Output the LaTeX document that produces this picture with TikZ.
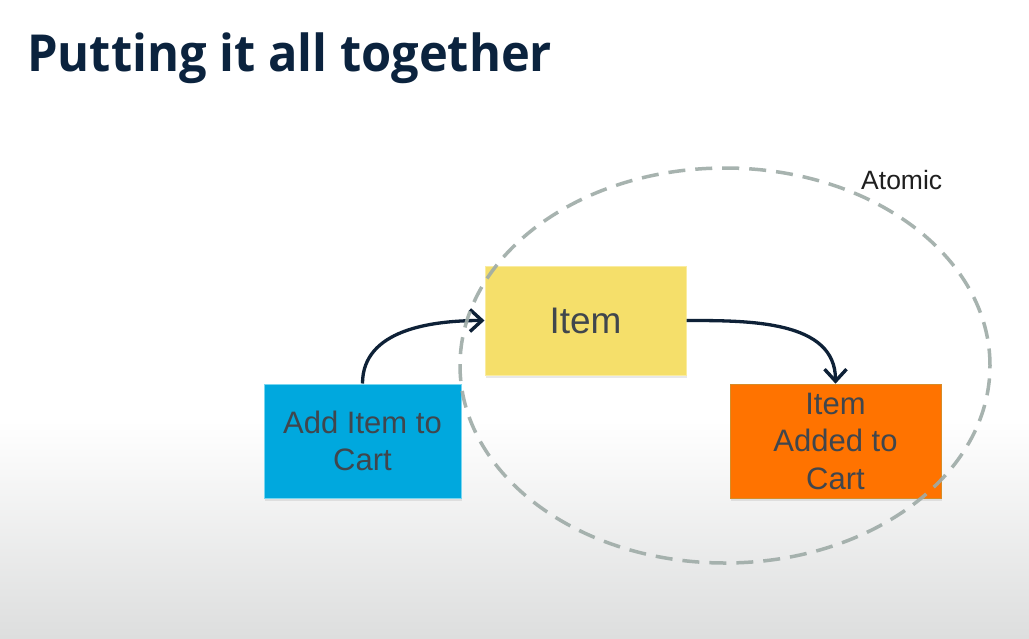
\documentclass[tikz,border=0pt]{standalone}
\usepackage{graphicx}
\usepackage{fontspec}
\setmainfont{Liberation Sans}
\newfontfamily\titlefont{Open Sans}
\usetikzlibrary{arrows.meta,shapes.geometric,shadows}

\definecolor{navy}{RGB}{11,35,62}
\definecolor{flowcol}{RGB}{14,33,55}
\definecolor{boxtext}{RGB}{64,70,77}
\definecolor{cmdblue}{RGB}{0,168,222}
\definecolor{cmdedge}{RGB}{120,214,240}
\definecolor{aggyellow}{RGB}{245,223,106}
\definecolor{aggedge}{RGB}{250,236,160}
\definecolor{evtorange}{RGB}{255,115,0}
\definecolor{evtedge}{RGB}{214,140,40}
\definecolor{dashcol}{RGB}{158,171,167}
\definecolor{bggrey}{RGB}{221,222,222}

\tikzset{
  card/.style={rectangle, inner sep=0pt, align=center, text=boxtext,
    font=\fontsize{31}{37.5}\selectfont,
    drop shadow={shadow xshift=1pt, shadow yshift=-3pt, opacity=0.18}},
  flow/.style={draw=flowcol, line width=3.3pt,
    -{Straight Barb[length=12pt,width=22pt,line width=3.4pt]}},
  boundary/.style={ellipse, draw=dashcol, line width=3.5pt,
    dash pattern=on 17pt off 10pt, inner sep=0pt}
}

\begin{document}
\begin{tikzpicture}[x=1pt,y=1pt]
\useasboundingbox (0,0) rectangle (1029,-638);
% slide background: white fading to light grey at the bottom
\fill[white] (0,0) rectangle (1029,-638);
\shade[top color=white, bottom color=bggrey] (0,-420) rectangle (1029,-638);

% heading
\node[anchor=base west, inner sep=0pt, text=navy] (title) at (27,-71)
  {\resizebox{525pt}{\height}{\titlefont\bfseries\fontsize{51}{60}\selectfont Putting it all together}};

% command, aggregate and event cards
\node[card, fill=cmdblue, draw=cmdedge, line width=1pt,
      minimum width=197pt, minimum height=114pt] (add) at (362.5,-441)
  {Add Item to\\Cart};
\node[card, fill=aggyellow, draw=aggedge, line width=1pt,
      minimum width=201pt, minimum height=109pt,
      font=\fontsize{37}{44}\selectfont] (item) at (585.5,-320.5)
  {Item};
\node[card, fill=evtorange, draw=evtedge, line width=0.6pt,
      minimum width=211pt, minimum height=114pt] (added) at (835.5,-441)
  {Item\\Added to\\Cart};

% flow arrows
\draw[flow] (add.north) to[out=90, in=180] (item.west);
\draw[flow] (item.east) to[out=0, in=90] (added.north);

% atomic boundary
\node[boundary, opacity=0.9, minimum width=530pt, minimum height=395pt] (atomic)
  at (725,-365.5) {};
\node[anchor=base west, inner sep=0pt, text=black!88,
      font=\fontsize{26.5}{31}\selectfont] (atomiclabel) at (861,-189) {Atomic};
\end{tikzpicture}
\end{document}
